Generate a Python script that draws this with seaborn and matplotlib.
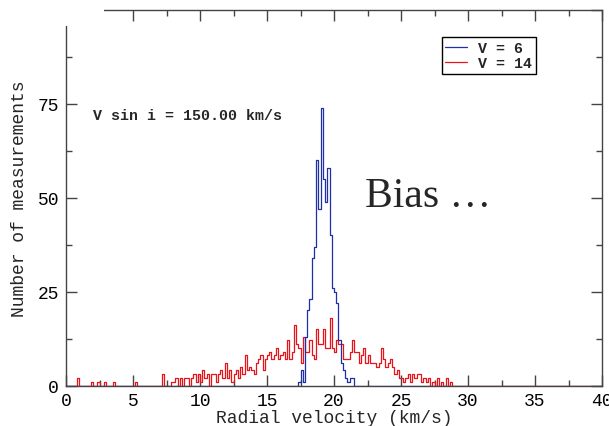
import numpy as np
import pandas as pd
import matplotlib
matplotlib.use("Agg")
import matplotlib.pyplot as plt
from matplotlib.patches import Rectangle
from matplotlib.lines import Line2D
from matplotlib.ticker import MultipleLocator
import seaborn as sns

# Histogram data (counts per 1/6 km/s bin)
BIN_WIDTH = 1 / 6
red_start = 0.0
red_counts = [
    0, 0, 0, 0, 0, 2,      # 0
    0, 0, 0, 0, 0, 1,      # 1
    0, 0, 1, 0, 0, 1,      # 2
    0, 0, 0, 1, 0, 0,      # 3
    0, 0, 0, 0, 0, 0,      # 4
    0, 1, 0, 0, 0, 0,      # 5
    0, 0, 0, 0, 0, 0,      # 6
    0, 3, 0, 0, 0, 1,      # 7
    1, 2, 0, 2, 0, 2,      # 8
    2, 0, 2, 3, 1, 3,      # 9
    1, 4, 2, 3, 0, 3,      # 10
    3, 1, 3, 4, 2, 6,      # 11
    2, 4, 1, 3, 4, 2,      # 12
    5, 3, 8, 4, 5, 4,      # 13
    3, 6, 7, 8, 4, 7,      # 14
    8, 9, 7, 8, 10, 7,     # 15
    8, 9, 7, 12, 7, 9,     # 16
    16, 11, 10, 6, 13, 9,  # 17
    9, 12, 8, 7, 15, 11,   # 18
    11, 15, 10, 10, 18, 10,  # 19
    9, 12, 11, 11, 7, 7,   # 20
    7, 9, 12, 9, 9, 6,     # 21
    8, 10, 6, 8, 6, 6,     # 22
    6, 5, 6, 10, 7, 5,     # 23
    6, 7, 5, 3, 4, 2,      # 24
    2, 1, 2, 3, 1, 3,      # 25
    2, 3, 3, 1, 2, 1,      # 26
    2, 0, 1, 0, 2, 0,      # 27
    1, 0, 2, 0, 1, 0,      # 28
]
blue_start = 17 + 2 / 6
blue_counts = [1, 4, 1, 13, 20, 23, 34, 37, 60, 47, 74, 55, 49, 58, 40,
               26, 25, 22, 12, 6, 4, 2, 1, 2, 2]

series_labels = ["V = 6", "V = 14"]
x_label = "Radial velocity (km/s)"
y_label = "Number of measurements"
note = "V sin i = 150.00 km/s"

BLUE = "#1f2fa8"
RED = "#e8141c"
AXIS = "#444444"
MONO = ["Liberation Mono", "DejaVu Sans Mono"]


def to_frame(start, counts):
    centers = start + (np.arange(len(counts)) + 0.5) * BIN_WIDTH
    return pd.DataFrame({"velocity": centers, "count": np.asarray(counts, float)})


red_df = to_frame(red_start, red_counts)
blue_df = to_frame(blue_start, blue_counts)

sns.set_style("ticks")
plt.rcParams["font.family"] = MONO

fig = plt.figure(figsize=(6.09, 4.27), dpi=100)
ax = fig.add_axes([66 / 609, 40.5 / 427, 536 / 609, 375.5 / 427])

hist_kw = dict(x="velocity", weights="count", binwidth=BIN_WIDTH,
               binrange=(0, 40), element="step", fill=False, linewidth=0.9, ax=ax)
sns.histplot(data=red_df, color=RED, **hist_kw)
sns.histplot(data=blue_df, color=BLUE, **hist_kw)

ax.set_xlim(0, 40)
ax.set_ylim(0, 100)
ax.xaxis.set_major_locator(MultipleLocator(5))
ax.xaxis.set_minor_locator(MultipleLocator(2.5))
ax.yaxis.set_major_locator(MultipleLocator(25))
ax.yaxis.set_minor_locator(MultipleLocator(12.5))
ax.tick_params(which="both", direction="in", top=True, right=True,
               color=AXIS, width=1, labelsize=13, labelcolor="black")
ax.tick_params(which="major", length=8, pad=5)
ax.tick_params(which="minor", length=4.5)
for sp in ax.spines.values():
    sp.set_visible(True)
    sp.set_color(AXIS)
    sp.set_linewidth(1)

ax.set_xlabel(x_label, fontsize=13, labelpad=-0.5)
ax.set_ylabel(y_label, fontsize=13, labelpad=-1)

ax.text(0.05, 0.72, note, transform=ax.transAxes, fontsize=10.8,
        fontweight="bold", va="center", ha="left")
ax.text(365 / 609, 1 - 207 / 427, "Bias \u2026", transform=fig.transFigure,
        fontsize=30, family=["Liberation Serif", "DejaVu Serif"],
        ha="left", va="baseline")

handles = [Line2D([], [], color=BLUE, lw=0.9), Line2D([], [], color=RED, lw=0.9)]
leg = ax.legend(handles, series_labels, loc="upper left",
                bbox_to_anchor=(0.701, 0.927), borderaxespad=0,
                fancybox=False, framealpha=1, edgecolor="black",
                handlelength=1.45, handletextpad=0.75, labelspacing=0.05,
                borderpad=0.25, prop={"family": MONO, "size": 10.8, "weight": "bold"})
leg.get_frame().set_linewidth(1)

# the y "0" label sits just above the axis in the original
fig.canvas.draw()
ax.get_yticklabels()[0].set_verticalalignment("bottom")

# the top-left corner of the original slide is covered up
fig.add_artist(Rectangle((0, 1 - 27 / 427), 104 / 609, 27 / 427,
                         transform=fig.transFigure, facecolor="white",
                         edgecolor="none", zorder=5))

fig.savefig("out.png", dpi=100, facecolor="white")
